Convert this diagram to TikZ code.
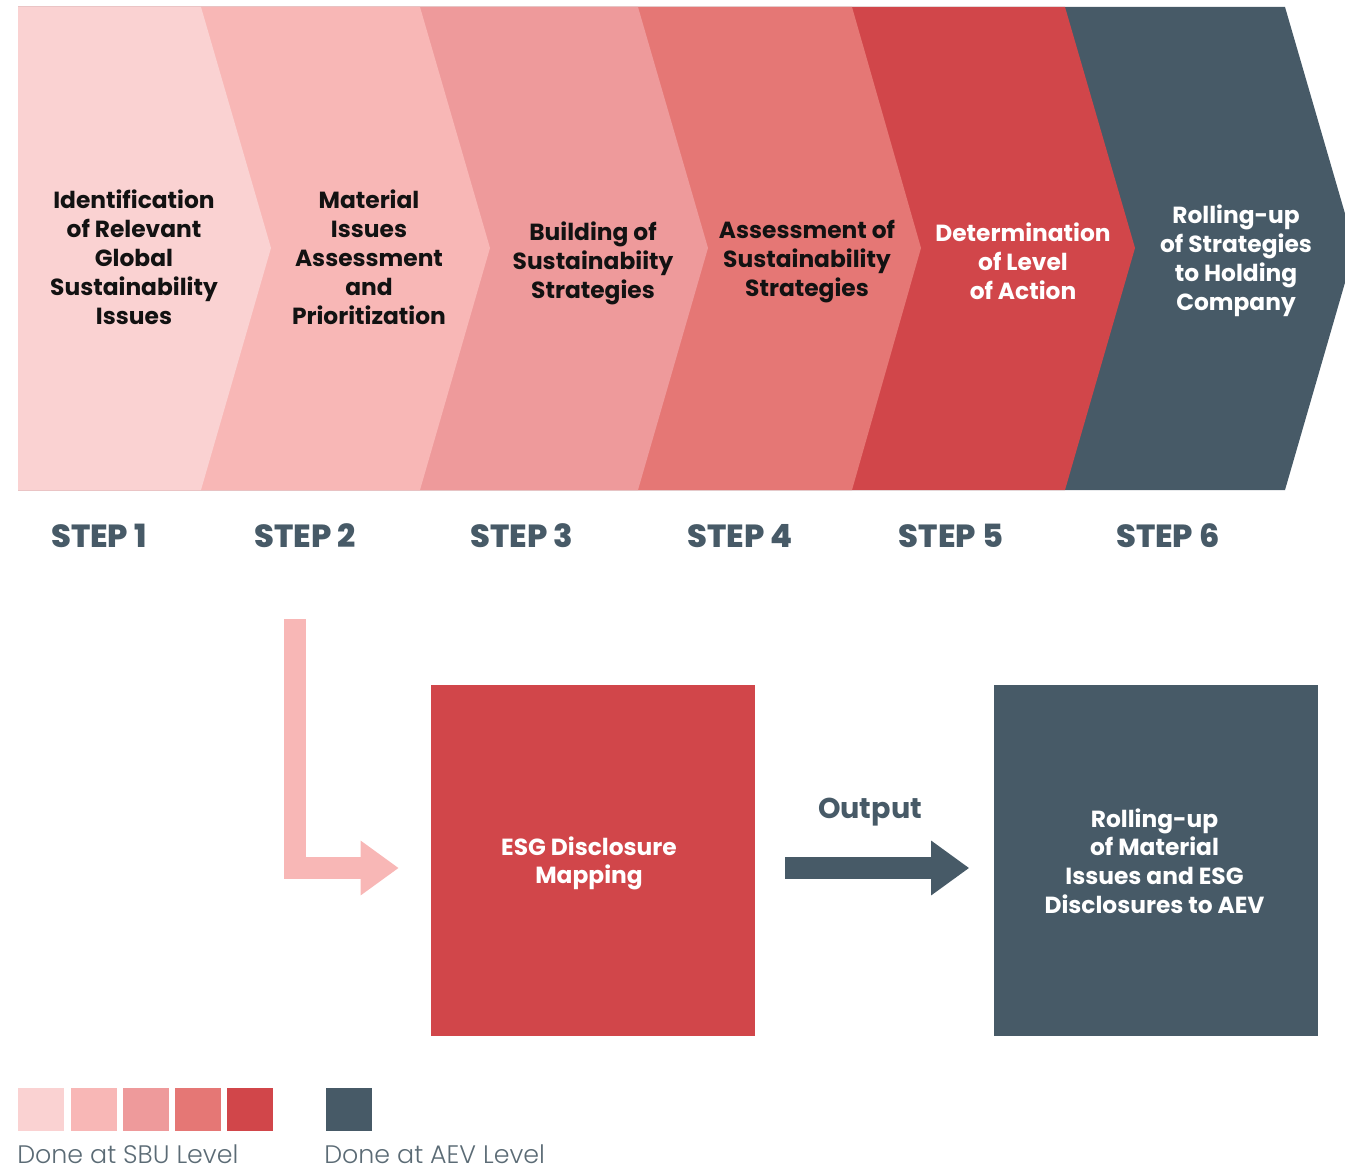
\documentclass[tikz,border=0pt]{standalone}
\usepackage{fontspec}
\setmainfont{Poppins}
\newfontfamily\heavyfont{Poppins ExtraBold}
\newfontfamily\lightfont{Poppins Light}
\usetikzlibrary{arrows.meta,positioning,calc}

\definecolor{cOne}{HTML}{FAD2D2}
\definecolor{cTwo}{HTML}{F8B7B6}
\definecolor{cThree}{HTML}{EE9A9B}
\definecolor{cFour}{HTML}{E57775}
\definecolor{cFive}{HTML}{D1464A}
\definecolor{cSix}{HTML}{475A67}
\definecolor{legendgray}{HTML}{5B6B75}

\begin{document}
\begin{tikzpicture}[x=0.75pt,y=-0.75pt,
    chevtext/.style={align=center, inner sep=0pt, text=black!93,
      font=\bfseries\fontsize{17.5}{21.75}\selectfont},
    steplabel/.style={inner sep=0pt, text=cSix, font=\heavyfont\fontsize{24}{28}\selectfont},
    bigbox/.style={minimum width=243pt, minimum height=263.25pt, inner sep=0pt},
    boxtext/.style={align=center, inner sep=0pt, text=white,
      font=\bfseries\fontsize{17.5}{21.4}\selectfont},
    legendbox/.style={minimum width=34.5pt, minimum height=32.25pt, inner sep=0pt},
    legendtext/.style={inner sep=0pt, text=legendgray, font=\lightfont\fontsize{19}{22}\selectfont},
    blockarrow/.style={line width=16.5pt, line join=miter, -{Triangle[width=39pt,length=28.5pt]}}
  ]
  \useasboundingbox (0,0) rectangle (1345,1169);
  \clip (0,0) rectangle (1345,1169);

  % Pfeilband oben (von rechts nach links)
  \fill[cSix]   (18,7) -- (1285,7) -- (1355,248) -- (1285,490) -- (18,490) -- cycle;
  \fill[cFive]  (18,7) -- (1065,7) -- (1135,248) -- (1065,490) -- (18,490) -- cycle;
  \fill[cFour]  (18,7) -- (852,7)  -- (921,248)  -- (852,490)  -- (18,490) -- cycle;
  \fill[cThree] (18,7) -- (638,7)  -- (708,248)  -- (638,490)  -- (18,490) -- cycle;
  \fill[cTwo]   (18,7) -- (420,7)  -- (490,248)  -- (420,490)  -- (18,490) -- cycle;
  \fill[cOne]   (18,7) -- (201,7)  -- (271,248)  -- (201,490)  -- (18,490) -- cycle;

  % Texte in den Pfeilen
  \node[chevtext] (t1) at (134,257) {Identification\\of Relevant\\Global\\Sustainability\\Issues};
  \node[chevtext] (t2) at (369,257) {Material\\Issues\\Assessment\\and\\Prioritization};
  \node[chevtext] (t3) at (593,263) {Building of\\Sustainabiity\\Strategies};
  \node[chevtext] (t4) at (807,262) {Assessment of\\Sustainability\\Strategies};
  \node[chevtext, text=white] (t5) at (1023,261) {Determination\\of Level\\of Action};
  \node[chevtext, text=white] (t6) at (1236,260.5) {Rolling-up\\of Strategies\\to Holding\\Company};

  % Schritte
  \node[steplabel] (s1) at (99,536)  {STEP 1};
  \node[steplabel] (s2) at (305,536) {STEP 2};
  \node[steplabel] (s3) at (522,536) {STEP 3};
  \node[steplabel] (s4) at (740,536) {STEP 4};
  \node[steplabel] (s5) at (951,536) {STEP 5};
  \node[steplabel] (s6) at (1168,536) {STEP 6};

  % Kästen unten
  \node[bigbox, fill=cFive] (esg)  at (593,860.5)  {};
  \node[bigbox, fill=cSix]  (roll) at (1155.5,860.5) {};
  \node[boxtext] (esgtext) at ($(esg)+(-4,3)$) {ESG Disclosure\\Mapping};
  \node[boxtext] (rolltext) at ($(roll)+(-1,0.5)$) {Rolling-up\\of Material\\Issues and ESG\\Disclosures to AEV};

  % Pfeile
  \coordinate (pstart) at ($(s2)+(-10,83)$);
  \coordinate (ptip) at ($(esg.west)+(-32,7.5)$);
  \draw[blockarrow, cTwo] (pstart) |- (ptip);

  \coordinate (ostart) at ($(esg.east)+(30,7.5)$);
  \coordinate (otip) at ($(roll.west)+(-24,7.5)$);
  \draw[blockarrow, cSix] (ostart) -- (otip);
  \node[inner sep=0pt, text=cSix, font=\bfseries\fontsize{21.5}{25}\selectfont] (out) at (870,812) {Output};

  % Legende
  \node[legendbox, fill=cOne]   (q1) at (41,1109.5)  {};
  \node[legendbox, fill=cTwo]   (q2) at (93.5,1109.5) {};
  \node[legendbox, fill=cThree] (q3) at (146,1109.5) {};
  \node[legendbox, fill=cFour]  (q4) at (198,1109.5) {};
  \node[legendbox, fill=cFive]  (q5) at (250,1109.5) {};
  \node[legendbox, fill=cSix]   (q6) at (349,1109.5) {};
  \node[legendtext, anchor=base west] (sbu) at (17,1163) {Done at SBU Level};
  \node[legendtext, anchor=base west] (aev) at (324,1163) {Done at AEV Level};
\end{tikzpicture}
\end{document}
